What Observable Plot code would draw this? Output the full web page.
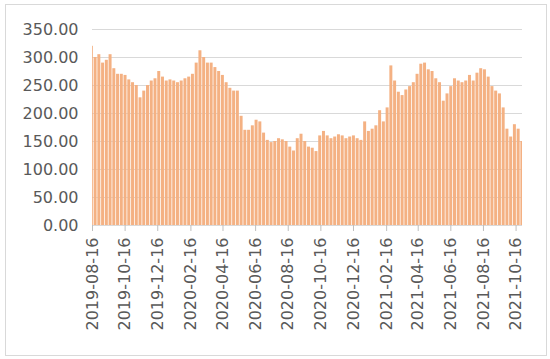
<!DOCTYPE html>
<html><head><meta charset="utf-8">
<script src="https://cdn.jsdelivr.net/npm/d3@7"></script>
<script src="https://cdn.jsdelivr.net/npm/@observablehq/plot@0.6"></script>
<style>
body{margin:0;background:#fff;}
#wrap{position:relative;width:550px;height:359px;}
#border{position:absolute;left:5px;top:4px;width:542px;height:352px;border:1px solid #d9d9d9;box-sizing:border-box;pointer-events:none;}
</style></head><body><div id="wrap"><div id="border"></div></div>
<script>
// Data (weekly envelope of the daily series, weekdays only)
const firstDay = "2019-08-16";
const lastDay = "2021-10-28";
const firstWeekMonday = "2019-08-12";
const weeklyValues = [
  320, 300, 305, 290, 295, 305, 280, 270, 270, 268,
  260, 255, 250, 228, 240, 250, 258, 262, 275, 265,
  258, 260, 258, 255, 258, 262, 265, 270, 290, 312,
  300, 290, 290, 282, 275, 268, 255, 245, 240, 240,
  195, 170, 170, 178, 188, 185, 165, 152, 148, 150,
  155, 153, 150, 140, 133, 155, 163, 150, 140, 138,
  132, 160, 168, 160, 155, 158, 162, 160, 155, 158,
  160, 155, 152, 185, 168, 172, 178, 205, 185, 210,
  285, 258, 238, 232, 242, 248, 255, 270, 288, 290,
  278, 275, 262, 255, 222, 235, 248, 262, 258, 255,
  258, 268, 258, 272, 280, 278, 265, 248, 240, 235,
  210, 172, 158, 180, 172, 150
];
const tickDates = [
  "2019-08-16","2019-10-16","2019-12-16","2020-02-16","2020-04-16","2020-06-16","2020-08-16",
  "2020-10-16","2020-12-16","2021-02-16","2021-04-16","2021-06-16","2021-08-16","2021-10-16"
];
const yTicks = [0, 50, 100, 150, 200, 250, 300, 350];

const start = new Date(firstDay), end = new Date(lastDay);
const monday0 = new Date(firstWeekMonday);
const mondays = d3.utcMonday.range(monday0, d3.utcDay.offset(monday0, 7 * weeklyValues.length));
const data = weeklyValues.map((v, i) => ({
  x1: d3.max([mondays[i], start]),
  x2: d3.min([d3.utcHour.offset(mondays[i], 134), end]),
  v
}));

const chart = Plot.plot({
  width: 550, height: 359,
  marginLeft: 92, marginRight: 28, marginTop: 29, marginBottom: 134,
  style: {fontFamily: "DejaVu Sans", fontSize: "16px", color: "#595959", background: "transparent"},
  x: {type: "utc", domain: [start, end]},
  y: {domain: [0, 350]},
  marks: [
    Plot.ruleY(yTicks, {stroke: "#d9d9d9", strokeWidth: 1}),
    Plot.rectY(data, {x1: "x1", x2: "x2", y: "v", fill: "#F4B183", inset: 0}),
    Plot.ruleY([0], {stroke: "#d9d9d9", strokeWidth: 1}),
    Plot.axisX({
      ticks: tickDates.map(d => new Date(d)),
      tickFormat: d3.utcFormat("%Y-%m-%d"),
      tickRotate: -90, tickSize: 6, tickPadding: 6,
      stroke: "#bfbfbf", fill: "#595959", label: null
    }),
    Plot.axisY({
      ticks: yTicks, tickFormat: d => d.toFixed(2),
      tickSize: 0, tickPadding: 14, fill: "#595959", label: null
    })
  ]
});
document.getElementById("wrap").prepend(chart);
</script>
</body></html>
